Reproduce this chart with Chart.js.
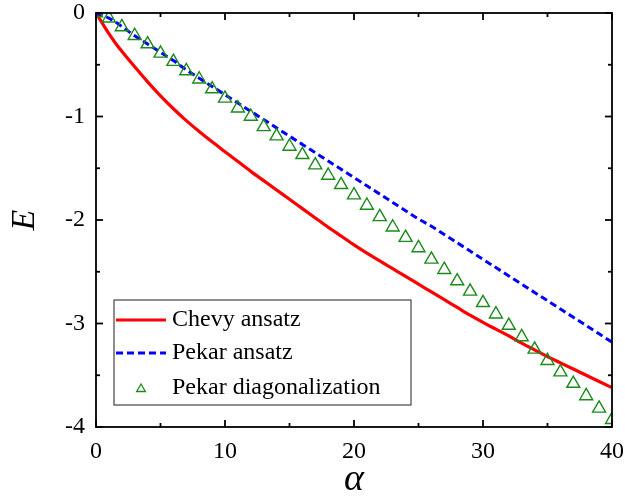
<!DOCTYPE html>
<html><head><meta charset="utf-8">
<script src="https://cdn.jsdelivr.net/npm/chart.js@4.4.0/dist/chart.umd.min.js"></script>
<style>html,body{margin:0;padding:0;background:#fff;}canvas{display:block;}</style>
</head><body>
<canvas id="c" width="625" height="499"></canvas>
<script>
// ---- data ----
const chevyAlpha = [0,0.5,1,1.5,2,3,4,5,6,7,8,9,10,11,12,13,14,15,16,17,18,19,20,21,22,23,24,25,26,27,28,29,30,31,32,33,34,35,36,37,38,39,40];
const chevyEnergy = [0,-0.10,-0.20,-0.29,-0.37,-0.52,-0.665,-0.80,-0.925,-1.04,-1.145,-1.245,-1.34,-1.435,-1.53,-1.62,-1.71,-1.80,-1.89,-1.98,-2.07,-2.155,-2.24,-2.32,-2.395,-2.47,-2.545,-2.62,-2.695,-2.77,-2.845,-2.92,-2.99,-3.055,-3.12,-3.19,-3.255,-3.32,-3.38,-3.44,-3.50,-3.56,-3.62];
const pekarAlpha = [0,1,2,3,4,5,6,7,8,9,10,11,12,13,14,15,16,17,18,19,20,21,22,23,24,25,26,27,28,29,30,31,32,33,34,35,36,37,38,39,40];
const pekarAnsatzEnergy = [0,-0.05,-0.13,-0.22,-0.30,-0.38,-0.46,-0.55,-0.63,-0.71,-0.79,-0.87,-0.95,-1.03,-1.11,-1.19,-1.27,-1.35,-1.43,-1.51,-1.59,-1.67,-1.75,-1.83,-1.91,-1.99,-2.06,-2.14,-2.22,-2.30,-2.38,-2.46,-2.54,-2.62,-2.70,-2.78,-2.86,-2.94,-3.02,-3.10,-3.18];
const diagAlpha = [0,1,2,3,4,5,6,7,8,9,10,11,12,13,14,15,16,17,18,19,20,21,22,23,24,25,26,27,28,29,30,31,32,33,34,35,36,37,38,39,40];
const diagEnergy = [0,-0.05,-0.135,-0.22,-0.30,-0.39,-0.47,-0.56,-0.64,-0.735,-0.825,-0.92,-1.00,-1.10,-1.19,-1.29,-1.37,-1.47,-1.57,-1.66,-1.76,-1.86,-1.97,-2.07,-2.17,-2.27,-2.38,-2.48,-2.59,-2.69,-2.80,-2.91,-3.02,-3.13,-3.25,-3.36,-3.47,-3.58,-3.70,-3.82,-3.93];
const seriesLabels = ['Chevy ansatz','Pekar ansatz','Pekar diagonalization'];
const xRange = [0, 40], xStep = 10;
const yRange = [-4, 0], yStep = 1;

const zip = (xs, ys) => xs.map((v, i) => ({x: v, y: ys[i]}));
const SERIF = '"Liberation Serif","Times New Roman",serif';

const frameTicks = {
  id: 'frameTicks',
  afterDatasetsDraw(chart) {
    const {ctx, chartArea: a, scales: {x, y}} = chart;
    ctx.save();
    ctx.strokeStyle = '#000';
    ctx.lineWidth = 1.8;
    ctx.strokeRect(a.left, a.top, a.right - a.left, a.bottom - a.top);
    const seg = (x1, y1, x2, y2) => { ctx.beginPath(); ctx.moveTo(x1, y1); ctx.lineTo(x2, y2); ctx.stroke(); };
    const major = 7, minor = 4;
    const xv = x.ticks.map(t => t.value);
    xv.forEach((v, i) => {
      const p = x.getPixelForValue(v);
      seg(p, a.bottom, p, a.bottom - major); seg(p, a.top, p, a.top + major);
      if (i < xv.length - 1) {
        const m = x.getPixelForValue((v + xv[i + 1]) / 2);
        seg(m, a.bottom, m, a.bottom - minor); seg(m, a.top, m, a.top + minor);
      }
    });
    const yv = y.ticks.map(t => t.value);
    yv.forEach((v, i) => {
      const p = y.getPixelForValue(v);
      seg(a.left, p, a.left + major, p); seg(a.right, p, a.right - major, p);
      if (i < yv.length - 1) {
        const m = y.getPixelForValue((v + yv[i + 1]) / 2);
        seg(a.left, m, a.left + minor, m); seg(a.right, m, a.right - minor, m);
      }
    });
    ctx.restore();
  }
};

const boxLegend = {
  id: 'boxLegend',
  afterDatasetsDraw(chart) {
    const {ctx, chartArea: a} = chart;
    const ds = chart.data.datasets;
    const bx = a.left + 18, by = a.top + 287, bw = 297, bh = 105;
    ctx.save();
    ctx.fillStyle = '#fff';
    ctx.fillRect(bx, by, bw, bh);
    ctx.strokeStyle = '#444';
    ctx.lineWidth = 1.2;
    ctx.strokeRect(bx, by, bw, bh);
    const rows = [by + 20, by + 53, by + 88];
    ds.forEach((d, i) => {
      const yy = rows[i];
      if (d.showLine === false) {
        ctx.strokeStyle = d.pointBorderColor;
        ctx.fillStyle = 'rgba(0,0,0,0)';
        ctx.lineWidth = 1.3;
        Chart.helpers.drawPoint(ctx, {pointStyle: 'triangle', radius: 5, rotation: 0, borderWidth: 1.3}, bx + 27, yy + 1);
      } else {
        ctx.strokeStyle = d.borderColor;
        ctx.lineWidth = d.borderWidth;
        ctx.setLineDash(d.borderDash || []);
        ctx.beginPath(); ctx.moveTo(bx + 2, yy); ctx.lineTo(bx + 52, yy); ctx.stroke();
        ctx.setLineDash([]);
      }
      ctx.font = '24px ' + SERIF;
      ctx.textBaseline = 'middle';
      ctx.textAlign = 'left';
      ctx.fillStyle = '#000';
      ctx.fillText(seriesLabels[i], bx + 58, yy);
    });
    ctx.restore();
  }
};

new Chart(document.getElementById('c'), {
  type: 'line',
  data: {
    datasets: [
      {label: seriesLabels[0], data: zip(chevyAlpha, chevyEnergy), borderColor: '#ff0000', borderWidth: 3.2, pointRadius: 0, fill: false, order: 3, clip: 0, cubicInterpolationMode: 'monotone'},
      {label: seriesLabels[1], data: zip(pekarAlpha, pekarAnsatzEnergy), borderColor: '#0000ff', borderWidth: 3, borderDash: [7, 4], pointRadius: 0, fill: false, order: 2, clip: 0, cubicInterpolationMode: 'monotone'},
      {label: seriesLabels[2], data: zip(diagAlpha, diagEnergy), showLine: false, pointStyle: 'triangle', pointRadius: 7.5, pointBorderColor: '#1a8a1a', pointBackgroundColor: 'rgba(0,0,0,0)', pointBorderWidth: 1.4, order: 1, clip: 0}
    ]
  },
  options: {
    responsive: false,
    animation: false,
    devicePixelRatio: 1,
    layout: {padding: {top: 13, right: 13, left: 0, bottom: 0}},
    plugins: {legend: {display: false}, tooltip: {enabled: false}},
    scales: {
      x: {
        type: 'linear', min: xRange[0], max: xRange[1],
        ticks: {stepSize: xStep, color: '#000', font: {family: SERIF, size: 24}, padding: 10, maxRotation: 0},
        grid: {display: false, drawTicks: false},
        border: {display: false},
        title: {display: true, text: 'α', color: '#000', font: {family: SERIF, size: 38, style: 'italic', lineHeight: 1}, padding: {top: 2, bottom: 0}},
        afterFit: s => { s.height = 72; s.paddingLeft = 0; s.paddingRight = 0; }
      },
      y: {
        type: 'linear', min: yRange[0], max: yRange[1],
        ticks: {stepSize: yStep, color: '#000', font: {family: SERIF, size: 24}, padding: 11},
        grid: {display: false, drawTicks: false},
        border: {display: false},
        title: {display: true, text: 'E', color: '#000', font: {family: SERIF, size: 34, style: 'italic', lineHeight: 1}, padding: {top: 8, bottom: 0}},
        afterFit: s => { s.width = 96; s.paddingTop = 0; s.paddingBottom = 0; }
      }
    }
  },
  plugins: [frameTicks, boxLegend]
});
</script>
</body></html>
